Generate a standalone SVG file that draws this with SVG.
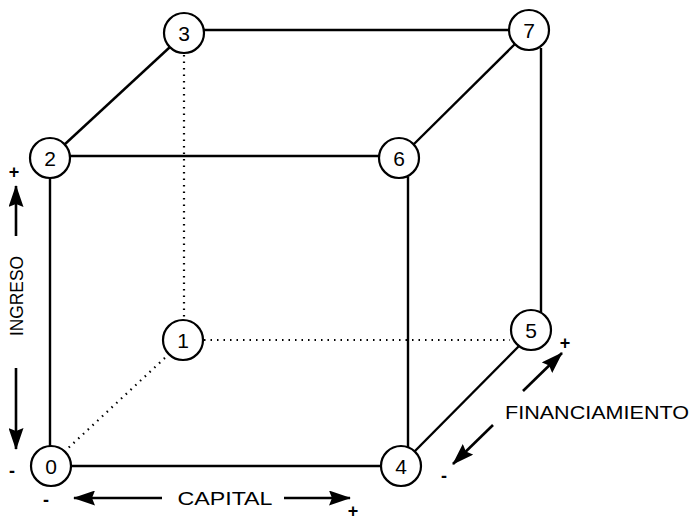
<svg xmlns="http://www.w3.org/2000/svg" width="689" height="526" viewBox="0 0 689 526">
<style>
.e{stroke:#000;stroke-width:2.4;fill:none}
.d{stroke:#000;stroke-width:2.2;fill:none;stroke-dasharray:1.5 5}
.a{stroke:#000;stroke-width:2.6;fill:none}
.n circle{fill:#fff;stroke:#000;stroke-width:2.2}
.n text{font-family:"Liberation Sans",Arial,sans-serif;font-size:21px;text-anchor:middle;fill:#000}
.l{font-family:"Liberation Sans",Arial,sans-serif;font-size:19px;fill:#000}
.s{font-family:"Liberation Sans",Arial,sans-serif;font-size:18px;fill:#000;font-weight:bold}
</style>
<defs>
<marker id="ahb" markerWidth="22" markerHeight="15" refX="21" refY="7.5" orient="auto" markerUnits="userSpaceOnUse" viewBox="0 0 22 15">
<path d="M0,0 L22,7.5 L0,15 L3,7.5 Z" fill="#000"/>
</marker>
</defs>
<g id="connectors">
<line class="e" x1="203" y1="30" x2="510" y2="30"/>
<line class="e" x1="170" y1="47" x2="64" y2="145"/>
<line class="e" x1="515" y1="44" x2="413" y2="145"/>
<line class="e" x1="70" y1="156" x2="380" y2="156"/>
<line class="e" x1="50" y1="178" x2="50" y2="446"/>
<line class="e" x1="408" y1="177" x2="408" y2="447"/>
<line class="e" x1="541" y1="48" x2="541" y2="312"/>
<line class="e" x1="71" y1="466" x2="381" y2="466"/>
<line class="e" x1="414" y1="452" x2="519" y2="346"/>
<line class="d" x1="184" y1="55" x2="184" y2="319"/>
<line class="d" x1="204" y1="340" x2="510" y2="340"/>
<line class="d" x1="64" y1="452" x2="168" y2="355"/>
</g>
<g id="node-3" class="n"><circle cx="184" cy="33" r="20"/><text x="184" y="41">3</text></g>
<g id="node-7" class="n"><circle cx="529" cy="30" r="20"/><text x="529" y="38">7</text></g>
<g id="node-2" class="n"><circle cx="50" cy="158" r="20"/><text x="50" y="166">2</text></g>
<g id="node-6" class="n"><circle cx="399" cy="158" r="20"/><text x="399" y="166">6</text></g>
<g id="node-1" class="n"><circle cx="183" cy="340" r="20"/><text x="183" y="348">1</text></g>
<g id="node-5" class="n"><circle cx="531" cy="330" r="20"/><text x="531" y="338">5</text></g>
<g id="node-0" class="n"><circle cx="51" cy="466" r="20"/><text x="51" y="474">0</text></g>
<g id="node-4" class="n"><circle cx="401" cy="466" r="20"/><text x="401" y="474">4</text></g>
<g id="axis-ingreso">
<line class="a" x1="16" y1="236" x2="16" y2="186" marker-end="url(#ahb)"/>
<line class="a" x1="16" y1="368" x2="16" y2="449" marker-end="url(#ahb)"/>
<text class="l" transform="translate(23,296) rotate(-90)" text-anchor="middle" textLength="80" lengthAdjust="spacingAndGlyphs">INGRESO</text>
<text class="s" x="14" y="178" text-anchor="middle">+</text>
<text class="s" x="12" y="477" text-anchor="middle">-</text>
</g>
<g id="axis-capital">
<line class="a" x1="162" y1="498" x2="74" y2="498" marker-end="url(#ahb)"/>
<line class="a" x1="284" y1="498" x2="350" y2="498" marker-end="url(#ahb)"/>
<text class="l" x="225" y="505" text-anchor="middle" textLength="95" lengthAdjust="spacingAndGlyphs">CAPITAL</text>
<text class="s" x="46" y="506" text-anchor="middle">-</text>
<text class="s" x="353" y="517" text-anchor="middle">+</text>
</g>
<g id="axis-financiamiento">
<line class="a" x1="523" y1="391" x2="562" y2="353" marker-end="url(#ahb)"/>
<line class="a" x1="493" y1="425" x2="453" y2="464" marker-end="url(#ahb)"/>
<text class="l" x="505" y="419" textLength="184" lengthAdjust="spacingAndGlyphs">FINANCIAMIENTO</text>
<text class="s" x="565" y="349" text-anchor="middle">+</text>
<text class="s" x="444" y="482" text-anchor="middle">-</text>
</g>
</svg>
